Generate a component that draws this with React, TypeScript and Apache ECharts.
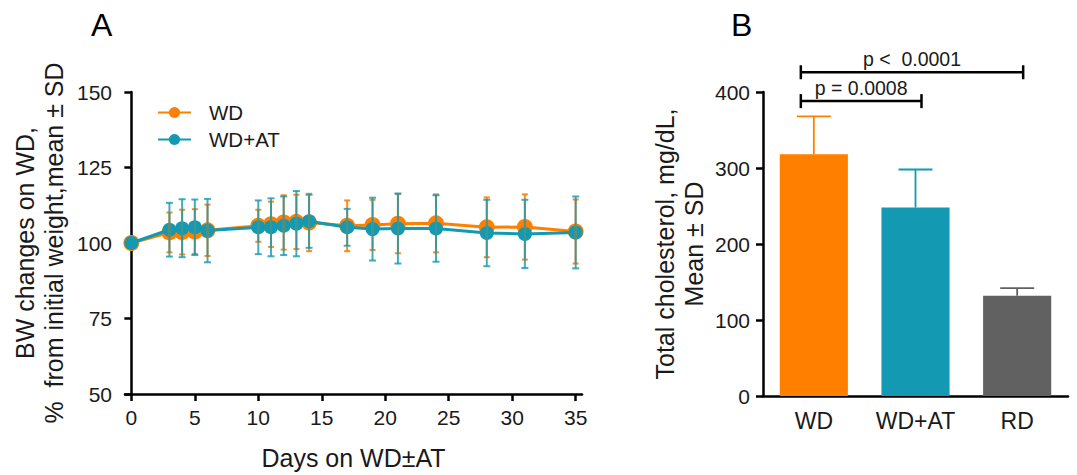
import React, { useEffect, useRef } from "react";
import * as echarts from "echarts";

const days = [0, 3, 4, 5, 6, 10, 11, 12, 13, 14, 17, 19, 21, 24, 28, 31, 35];
const wdMean = [100, 103.5, 103.6, 103.8, 104.2, 105.7, 106.2, 106.8, 107, 106.8, 105.7, 106, 106.4, 106.5, 105.2, 105.3, 103.8];
const wdSD = [0, 6.6, 7.4, 7.4, 8.5, 5.3, 7.5, 9, 9, 9.5, 8.4, 8.3, 9.8, 9.6, 9.9, 10.8, 10.6];
const atMean = [100, 104.4, 104.9, 105.2, 104.1, 105.2, 105.2, 105.7, 106.4, 107.2, 105.2, 104.6, 104.8, 104.8, 103.3, 103, 103.5];
const atSD = [0, 8.9, 9.6, 9.2, 10.5, 8.9, 9.6, 9.7, 10.8, 8.8, 6.1, 10.4, 11.6, 11, 11, 11.3, 11.9];
const xTicks = [0, 5, 10, 15, 20, 25, 30, 35];

const groups = ["WD", "WD+AT", "RD"];
const cholMean = [318, 248, 132];
const cholSD = [50, 50, 10];
const brackets = [
  { from: 0, to: 1, y: 388, label: "p = 0.0008" },
  { from: 0, to: 2, y: 426, label: "p <  0.0001" },
];

const ORANGE = "#FF8000";
const TEAL = "#1399B2";
const GRAY = "#616161";
const FONT = "Liberation Sans, Arial, sans-serif";
const TXT = "#1a1a1a";

function errRender(color: string, cap: number, opacity: number) {
  return (params: any, api: any) => {
    const x = api.value(0);
    const m = api.value(1);
    const s = api.value(2);
    if (!s) return null;
    const top = api.coord([x, m + s]);
    const bot = api.coord([x, m - s]);
    const st = { stroke: color, lineWidth: 2, opacity };
    return {
      type: "group",
      children: [
        { type: "line", shape: { x1: top[0], y1: top[1], x2: bot[0], y2: bot[1] }, style: st },
        { type: "line", shape: { x1: top[0] - cap, y1: top[1], x2: top[0] + cap, y2: top[1] }, style: st },
        { type: "line", shape: { x1: bot[0] - cap, y1: bot[1], x2: bot[0] + cap, y2: bot[1] }, style: st },
      ],
    };
  };
}

export default function App() {
  const ref = useRef<HTMLDivElement>(null);
  useEffect(() => {
    if (!ref.current) return;
    const chart = echarts.init(ref.current, null, { renderer: "svg" });
    const axisLine = { show: true, lineStyle: { color: "#000", width: 2.5 } };
    const axisTick = { show: true, length: 7, lineStyle: { color: "#000", width: 2.5 } };
    const option: any = {
      animation: false,
      backgroundColor: "#fff",
      textStyle: { fontFamily: FONT },
      title: [
        { text: "A", left: 86, top: 4, textStyle: { fontSize: 32, fontWeight: "normal", color: "#000", fontFamily: FONT } },
        { text: "B", left: 726, top: 4, textStyle: { fontSize: 32, fontWeight: "normal", color: "#000", fontFamily: FONT } },
      ],
      legend: {
        left: 152,
        top: 97,
        orient: "vertical",
        itemWidth: 33,
        itemHeight: 14,
        itemGap: 6,
        data: ["WD", "WD+AT"],
        textStyle: { fontSize: 20.5, color: TXT, fontFamily: FONT, padding: [0, 0, 0, 13] },
      },
      grid: [
        { left: 125, top: 92, width: 457, height: 304 },
        { left: 763, top: 92, width: 305, height: 304 },
      ],
      xAxis: [
        {
          type: "value",
          gridIndex: 0,
          min: -0.5,
          max: 35.5,
          splitLine: { show: false },
          axisLine,
          axisTick: { ...axisTick, customValues: xTicks },
          axisLabel: { customValues: xTicks, fontSize: 21, color: TXT, margin: 13, fontFamily: FONT },
          name: "Days on WD\u00B1AT",
          nameLocation: "middle",
          nameGap: 51,
          nameTextStyle: { fontSize: 25, color: TXT, fontFamily: FONT },
        },
        {
          type: "category",
          gridIndex: 1,
          data: groups,
          axisLine,
          axisTick: { show: false },
          axisLabel: { interval: 0, hideOverlap: false, fontSize: 23, color: TXT, margin: 13, fontFamily: FONT },
        },
      ],
      yAxis: [
        {
          type: "value",
          gridIndex: 0,
          min: 50,
          max: 150,
          interval: 25,
          splitLine: { show: false },
          axisLine,
          axisTick,
          axisLabel: { fontSize: 21, color: TXT, margin: 13, fontFamily: FONT },
          name: "BW changes on WD,\n%  from initial weight,mean \u00B1 SD",
          nameLocation: "middle",
          nameGap: 57,
          nameTextStyle: { fontSize: 25, lineHeight: 29, color: TXT, fontFamily: FONT },
        },
        {
          type: "value",
          gridIndex: 1,
          min: 0,
          max: 400,
          interval: 100,
          splitLine: { show: false },
          axisLine,
          axisTick,
          axisLabel: { fontSize: 21, color: TXT, margin: 13, fontFamily: FONT },
          name: "Total cholesterol, mg/dL,\nMean \u00B1 SD",
          nameLocation: "middle",
          nameGap: 55,
          nameTextStyle: { fontSize: 25, lineHeight: 29, color: TXT, fontFamily: FONT },
        },
      ],
      series: [
        {
          name: "WD",
          type: "line",
          xAxisIndex: 0,
          yAxisIndex: 0,
          data: days.map((d, i) => [d, wdMean[i]]),
          symbol: "circle",
          symbolSize: 16,
          color: ORANGE,
          lineStyle: { width: 3, color: ORANGE },
          itemStyle: { color: ORANGE },
          z: 2,
        },
        {
          name: "WD+AT",
          type: "line",
          xAxisIndex: 0,
          yAxisIndex: 0,
          data: days.map((d, i) => [d, atMean[i]]),
          symbol: "circle",
          symbolSize: 14,
          color: TEAL,
          lineStyle: { width: 3, color: TEAL },
          itemStyle: { color: TEAL },
          z: 3,
        },
        {
          type: "custom",
          xAxisIndex: 0,
          yAxisIndex: 0,
          data: days.map((d, i) => [d, wdMean[i], wdSD[i]]),
          renderItem: errRender(ORANGE, 3, 0.9),
          z: 4,
          silent: true,
        },
        {
          type: "custom",
          xAxisIndex: 0,
          yAxisIndex: 0,
          data: days.map((d, i) => [d, atMean[i], atSD[i]]),
          renderItem: errRender(TEAL, 3.5, 0.8),
          z: 5,
          silent: true,
        },
        {
          type: "custom",
          xAxisIndex: 1,
          yAxisIndex: 1,
          data: groups.map((g, i) => [i, cholMean[i], cholSD[i]]),
          renderItem: (params: any, api: any) => {
            const i = params.dataIndex;
            const colors = [ORANGE, TEAL, GRAY];
            const top = api.coord([api.value(0), api.value(1) + api.value(2)]);
            const base = api.coord([api.value(0), api.value(1)]);
            const st = { stroke: colors[i], lineWidth: 1.8 };
            return {
              type: "group",
              children: [
                { type: "line", shape: { x1: top[0], y1: top[1], x2: base[0], y2: base[1] }, style: st },
                { type: "line", shape: { x1: top[0] - 17, y1: top[1], x2: top[0] + 17, y2: top[1] }, style: st },
              ],
            };
          },
          z: 1,
          silent: true,
        },
        {
          type: "bar",
          xAxisIndex: 1,
          yAxisIndex: 1,
          barWidth: "67%",
          data: cholMean.map((v, i) => ({ value: v, itemStyle: { color: [ORANGE, TEAL, GRAY][i] } })),
          z: 2,
        },
        {
          type: "custom",
          xAxisIndex: 1,
          yAxisIndex: 1,
          clip: false,
          data: brackets.map((b) => [b.from, b.to, b.y]),
          renderItem: (params: any, api: any) => {
            const b = brackets[params.dataIndex];
            const p0 = api.coord([api.value(0), api.value(2)]);
            const p1 = api.coord([api.value(1), api.value(2)]);
            const x0 = p0[0] - 13;
            const x1 = p1[0] + 6;
            const y = p0[1];
            const st = { stroke: "#000", lineWidth: 2.5 };
            return {
              type: "group",
              children: [
                { type: "line", shape: { x1: x0, y1: y, x2: x1, y2: y }, style: st },
                { type: "line", shape: { x1: x0, y1: y - 7, x2: x0, y2: y + 7 }, style: st },
                { type: "line", shape: { x1: x1, y1: y - 7, x2: x1, y2: y + 7 }, style: st },
                {
                  type: "text",
                  style: {
                    text: b.label,
                    x: (x0 + x1) / 2,
                    y: y - 3,
                    textAlign: "center",
                    textVerticalAlign: "bottom",
                    fontSize: 19.5,
                    fontFamily: FONT,
                    fill: TXT,
                  },
                },
              ],
            };
          },
          z: 5,
          silent: true,
        },
      ],
    };
    chart.setOption(option);
    return () => chart.dispose();
  }, []);
  return (
    <div
      ref={ref}
      style={{ position: "fixed", left: 0, top: 0, width: 1077, height: 475, background: "#fff" }}
    />
  );
}
